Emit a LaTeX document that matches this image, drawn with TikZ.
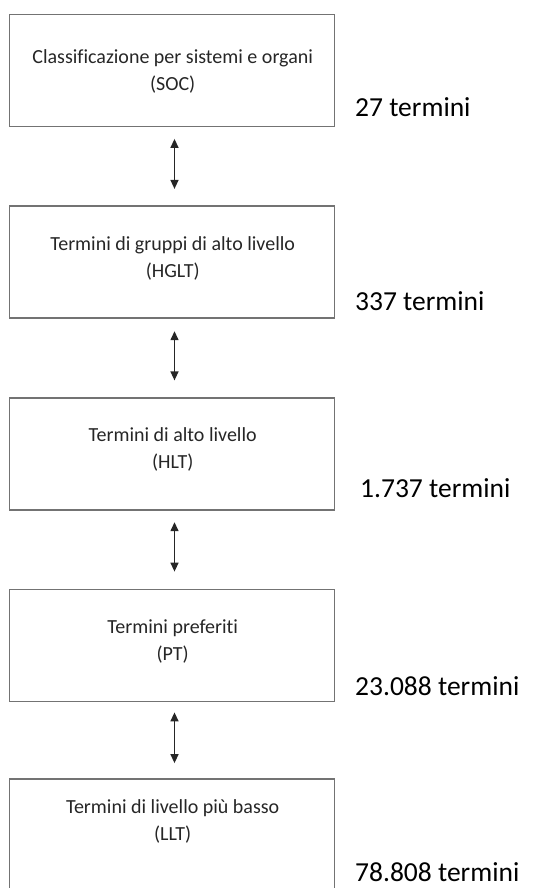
\documentclass[tikz,border=0pt]{standalone}
\usepackage{fontspec}
\setmainfont[Ligatures=NoCommon]{Carlito}
\usetikzlibrary{arrows.meta}
\begin{document}
\begin{tikzpicture}[x=1pt,y=-1pt,
  box/.style={draw=black!55, line width=1.8pt, minimum width=325pt, minimum height=112pt, inner sep=0pt},
  boxtxt/.style={align=center, font=\fontsize{20}{27}\selectfont, text=black!85, inner sep=0pt, anchor=base},
  cnt/.style={font=\fontsize{27.5}{30}\selectfont, inner sep=0pt, anchor=base west},
  biarrow/.style={{Triangle[width=8pt,length=9pt]}-{Triangle[width=8pt,length=9pt]}, line width=1.4pt, black!85}]
\useasboundingbox (0,0) rectangle (559,888);
\clip (0,0) rectangle (559,888);
\node[box] (b1) at (172,70.5) {};
\node[box] (b2) at (172,262.3) {};
\node[box] (b3) at (172,454.3) {};
\node[box] (b4) at (172,645.5) {};
\node[box] (b5) at (172,835) {};
\node[boxtxt] (t1) at (172.7,91) {Classificazione per sistemi e organi\\(SOC)};
\node[boxtxt] (t2) at (172.7,277) {Termini di gruppi di alto livello\\(HGLT)};
\node[boxtxt] (t3) at (172.7,468) {Termini di alto livello\\(HLT)};
\node[boxtxt] (t4) at (172.7,660) {Termini preferiti\\(PT)};
\node[boxtxt] (t5) at (172.7,840) {Termini di livello più basso\\(LLT)};
\node[cnt] (c1) at (355,117) {27 termini};
\node[cnt] (c2) at (355,310) {337 termini};
\node[cnt] (c3) at (360,497) {1.737 termini};
\node[cnt] (c4) at (355,695) {23.088 termini};
\node[cnt] (c5) at (355,881) {78.808 termini};
\draw[biarrow, shorten <=11.5pt, shorten >=16.5pt] ([xshift=2.5pt]b1.south) -- ([xshift=2.5pt]b2.north);
\draw[biarrow, shorten <=12pt, shorten >=17pt] ([xshift=2.5pt]b2.south) -- ([xshift=2.5pt]b3.north);
\draw[biarrow, shorten <=11pt, shorten >=17pt] ([xshift=2.5pt]b3.south) -- ([xshift=2.5pt]b4.north);
\draw[biarrow, shorten <=10pt, shorten >=15pt] ([xshift=2.5pt]b4.south) -- ([xshift=2.5pt]b5.north);
\end{tikzpicture}
\end{document}
